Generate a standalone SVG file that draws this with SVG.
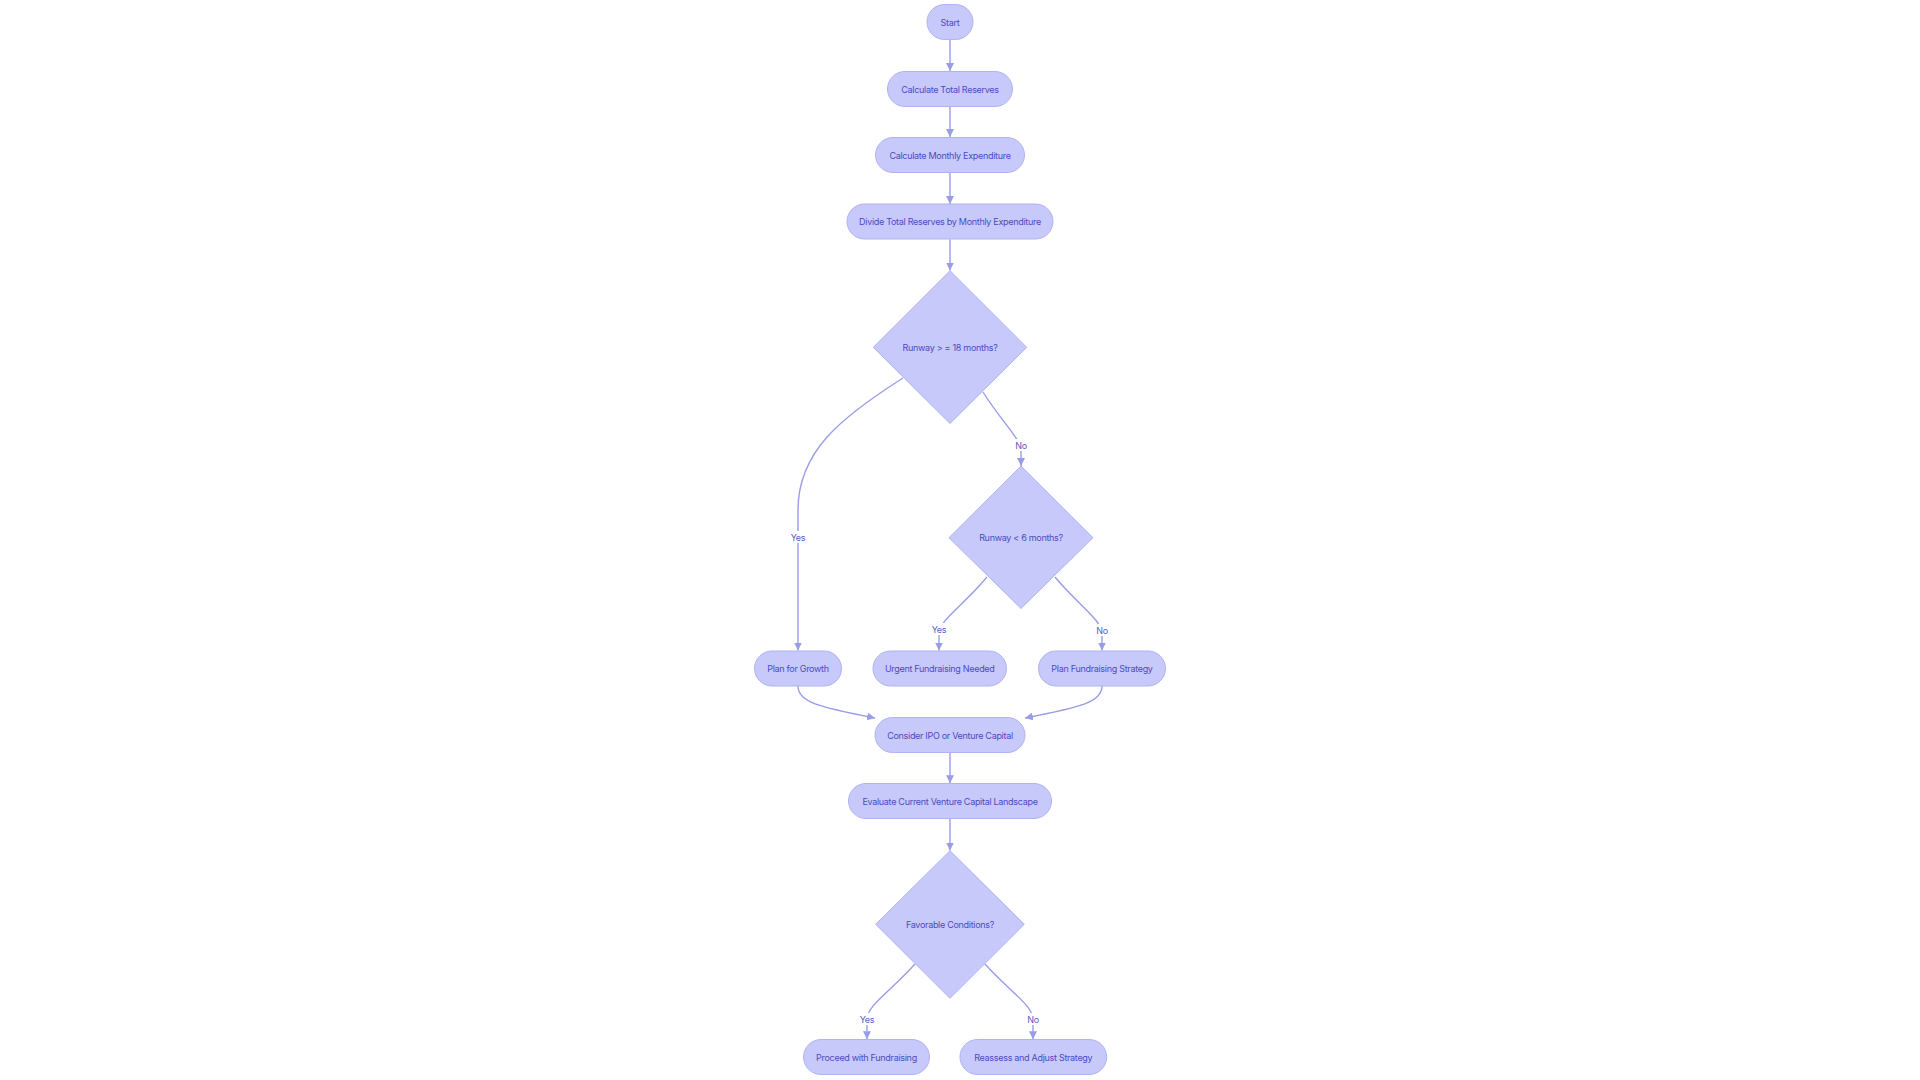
<svg xmlns="http://www.w3.org/2000/svg" width="1920" height="1080" viewBox="0 0 1920 1080">
<style>
.node rect, .node polygon { fill: #c8c9fb; stroke: #b0b2f2; stroke-width: 1; }
text { font-family: Inter, "Noto Sans", "Liberation Sans", sans-serif; font-size: 9px; fill: #4a4ac2; text-anchor: middle; dominant-baseline: central; letter-spacing: -0.3px; }
.edge { fill: none; stroke: #999de6; stroke-width: 1.4; marker-end: url(#arrow); }
.lbl rect { fill: #ffffff; }
.lbl text { fill: #5a5abc; }
</style>
<defs>
<marker id="arrow" viewBox="0 0 10 10" refX="10" refY="5" markerWidth="8" markerHeight="8" markerUnits="userSpaceOnUse" orient="auto">
<path d="M0,0 L10,5 L0,10 z" fill="#999de6"/>
</marker>
</defs>
<rect width="1920" height="1080" fill="#ffffff"/>
<g id="connectors">
<path class="edge" d="M950,39.5 L950,71"/>
<path class="edge" d="M950,106.7 L950,137"/>
<path class="edge" d="M950,172.7 L950,204"/>
<path class="edge" d="M950,239.3 L950,270.5"/>
<path class="edge" d="M903,378 C840,418 798,452 798,510 L798,650.5"/>
<path class="edge" d="M983,392 C1003,424 1021,438 1021,452 L1021,466"/>
<path class="edge" d="M987,577 C962,607 939,620 939,634 L939,650.5"/>
<path class="edge" d="M1055,577 C1080,607 1102,620 1102,634 L1102,650.5"/>
<path class="edge" d="M798,686 C798,702 818,707 875,718"/>
<path class="edge" d="M1102,686 C1102,702 1082,707 1025,718"/>
<path class="edge" d="M950,752.3 L950,783.3"/>
<path class="edge" d="M950,819 L950,850.5"/>
<path class="edge" d="M915,964 C890,992 867,1005 867,1020 L867,1039.3"/>
<path class="edge" d="M985,964 C1010,992 1033,1005 1033,1020 L1033,1039.3"/>
<g class="lbl"><rect x="788" y="531" width="20" height="12"/><text x="798" y="537.5">Yes</text></g>
<g class="lbl"><rect x="1013" y="439" width="16" height="12"/><text x="1021" y="445">No</text></g>
<g class="lbl"><rect x="929" y="623" width="20" height="12"/><text x="939" y="629.5">Yes</text></g>
<g class="lbl"><rect x="1094" y="624" width="16" height="12"/><text x="1102" y="630">No</text></g>
<g class="lbl"><rect x="857" y="1013" width="20" height="12"/><text x="867" y="1019">Yes</text></g>
<g class="lbl"><rect x="1025" y="1013" width="16" height="12"/><text x="1033" y="1019">No</text></g>
</g>
<g id="start" class="node"><rect x="927" y="4.5" width="46" height="35" rx="17.5"/><text x="950" y="22">Start</text></g>
<g id="calcReserves" class="node"><rect x="887.5" y="71.5" width="125" height="35" rx="17.5"/><text x="950" y="89">Calculate Total Reserves</text></g>
<g id="calcExpenditure" class="node"><rect x="875.5" y="137.5" width="149" height="35" rx="17.5"/><text x="950" y="155">Calculate Monthly Expenditure</text></g>
<g id="divide" class="node"><rect x="847" y="204" width="206" height="35" rx="17.5"/><text x="950" y="221.5">Divide Total Reserves by Monthly Expenditure</text></g>
<g id="decision18" class="node"><polygon points="950,270.7 1026.7,347.3 950,423.5 873.3,347.3"/><text x="950" y="347.3">Runway &gt; = 18 months?</text></g>
<g id="decision6" class="node"><polygon points="1021,466 1093,537.7 1021,608.5 949,537.7"/><text x="1021" y="537.7">Runway &lt; 6 months?</text></g>
<g id="planGrowth" class="node"><rect x="754.5" y="651" width="87" height="35" rx="17.5"/><text x="798" y="668.5">Plan for Growth</text></g>
<g id="urgent" class="node"><rect x="873" y="651" width="133.5" height="35" rx="17.5"/><text x="939.7" y="668.5">Urgent Fundraising Needed</text></g>
<g id="planFundraising" class="node"><rect x="1038.5" y="651" width="127" height="35" rx="17.5"/><text x="1102" y="668.5">Plan Fundraising Strategy</text></g>
<g id="considerIPO" class="node"><rect x="875" y="717.5" width="150" height="35" rx="17.5"/><text x="950" y="735">Consider IPO or Venture Capital</text></g>
<g id="evaluate" class="node"><rect x="848.5" y="783.5" width="203" height="35" rx="17.5"/><text x="950" y="801">Evaluate Current Venture Capital Landscape</text></g>
<g id="favorable" class="node"><polygon points="950,850.7 1024.3,924.3 950,998.3 875.7,924.3"/><text x="950" y="924.3">Favorable Conditions?</text></g>
<g id="proceed" class="node"><rect x="803.5" y="1039.5" width="126" height="35" rx="17.5"/><text x="866.5" y="1057">Proceed with Fundraising</text></g>
<g id="reassess" class="node"><rect x="960" y="1039.5" width="146.7" height="35" rx="17.5"/><text x="1033.3" y="1057">Reassess and Adjust Strategy</text></g>
</svg>
